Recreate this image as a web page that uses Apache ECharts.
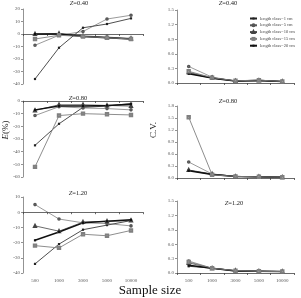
<!DOCTYPE html>
<html><head><meta charset="utf-8">
<script src="https://cdn.jsdelivr.net/npm/echarts@6/dist/echarts.min.js"></script>
<style>html,body{margin:0;padding:0;background:#fff}#c{width:301px;height:298px}</style>
</head><body><div id="c"></div>
<script>
const categories = ['500','1000','3000','5000','10000'];
const seriesNames = ['length class=1 cm','length class=5 cm','length class=10 cm','length class=15 cm','length class=20 cm'];
const panelTitles = ['0.40','0.80','1.20'];
// E(%) panels
const E_040_1 = [-36, -11, 5, 8, 12.5];
const E_040_5 = [-9, -1, 2, 12, 15];
const E_040_10 = [0, 0.5, -1.5, -2.5, -3.5];
const E_040_15 = [-4, -1, -2, -3, -4];
const E_040_20 = [0, 0, -2, -3, -4];
const E_080_1 = [-35, -18, -5, -4, -2];
const E_080_5 = [-11.5, -4.5, -5.5, -6, -7];
const E_080_10 = [-7.5, -3, -3, -3.5, -4];
const E_080_15 = [-52, -11.5, -10, -10.5, -11];
const E_080_20 = [-7, -4, -4, -3.5, -2.5];
const E_120_1 = [-34, -21, -11.5, -8.5, -5.5];
const E_120_5 = [5, -4.5, -7, -7.5, -9];
const E_120_10 = [-9, -12.5, -6.5, -6, -5.5];
const E_120_15 = [-22, -23.5, -14.5, -15.5, -12];
const E_120_20 = [-18.5, -13, -7, -6, -5];
// C.V. panels
const CV_040_1 = [0.2, 0.1, 0.04, 0.05, 0.03];
const CV_040_5 = [0.34, 0.12, 0.04, 0.06, 0.03];
const CV_040_10 = [0.22, 0.11, 0.04, 0.05, 0.03];
const CV_040_15 = [0.24, 0.11, 0.045, 0.06, 0.03];
const CV_040_20 = [0.19, 0.1, 0.04, 0.05, 0.03];
const CV_080_1 = [0.19, 0.09, 0.04, 0.03, 0.02];
const CV_080_5 = [0.4, 0.1, 0.04, 0.03, 0.02];
const CV_080_10 = [0.2, 0.1, 0.04, 0.03, 0.02];
const CV_080_15 = [1.52, 0.08, 0.04, 0.03, 0.02];
const CV_080_20 = [0.18, 0.09, 0.04, 0.03, 0.02];
const CV_120_1 = [0.14, 0.1, 0.04, 0.035, 0.03];
const CV_120_5 = [0.25, 0.1, 0.05, 0.035, 0.03];
const CV_120_10 = [0.21, 0.1, 0.05, 0.035, 0.03];
const CV_120_15 = [0.23, 0.1, 0.05, 0.035, 0.03];
const CV_120_20 = [0.16, 0.1, 0.04, 0.035, 0.03];

const Edata = [[E_040_1,E_040_5,E_040_10,E_040_15,E_040_20],[E_080_1,E_080_5,E_080_10,E_080_15,E_080_20],[E_120_1,E_120_5,E_120_10,E_120_15,E_120_20]];
const CVdata = [[CV_040_1,CV_040_5,CV_040_10,CV_040_15,CV_040_20],[CV_080_1,CV_080_5,CV_080_10,CV_080_15,CV_080_20],[CV_120_1,CV_120_5,CV_120_10,CV_120_15,CV_120_20]];
const Eranges = [[-40,20],[-60,0],[-40,10]];
const CVranges = [[0,1.5],[0,1.8],[0,1.5]];

const FONT = 'Liberation Serif';
const styles = [
  {color:'#222', width:0.8, symbol:'rect', size:2.2},
  {color:'#555', width:0.6, symbol:'emptyCircle', size:1.6},
  {color:'#444', width:0.8, symbol:'emptyTriangle', size:2},
  {color:'#808080', width:0.9, symbol:'emptyRect', size:2.4},
  {color:'#111', width:1.5, symbol:'rect', size:2.2}
];

const leftGrids = [{top:9,height:75},{top:101,height:76},{top:197,height:76}];
const rightGrids = [{top:10,height:73},{top:106,height:72},{top:201,height:72}];
const grid = [], xAxis = [], yAxis = [], series = [];
const tickLbl = {fontSize:5, color:'#555', fontFamily:FONT};

function addPanel(g, isLeft, row) {
  const gi = grid.length;
  grid.push({left: isLeft?23:177, width: isLeft?120:117, top:g.top, height:g.height, containLabel:false, outerBoundsMode:'none'});
  const xi = xAxis.length;
  const bottomRow = row===2;
  xAxis.push({type:'category', data:categories, gridIndex:gi, position:'bottom',
    axisLine:{onZero:isLeft, lineStyle:{color:'#444', width:0.8}},
    axisTick:{show:true, length:2, lineStyle:{color:'#444', width:0.8}},
    axisLabel:{show: bottomRow && !isLeft, margin:5, ...tickLbl}});
  if (isLeft && bottomRow) {
    xAxis.push({type:'category', data:categories, gridIndex:gi, position:'bottom', offset:0,
      axisLine:{show:false, onZero:false}, axisTick:{show:false},
      axisLabel:{show:true, margin:5, ...tickLbl}});
  }
  const yi = yAxis.length;
  const r = isLeft ? Eranges[row] : CVranges[row];
  yAxis.push({type:'value', gridIndex:gi, min:r[0], max:r[1], interval: isLeft?10:0.3,
    splitLine:{show:false},
    axisLine:{show:true, onZero:false, lineStyle:{color:'#777', width:0.8}},
    axisTick:{show:true, length:2, lineStyle:{color:'#777', width:0.8}},
    axisLabel:{margin:3, ...tickLbl, formatter: v => isLeft ? String(Math.round(v)) : v.toFixed(1)}});
  const data = isLeft ? Edata[row] : CVdata[row];
  data.forEach((arr, k) => {
    const s = styles[k];
    series.push({type:'line', name:seriesNames[k], xAxisIndex:xi, yAxisIndex:yi, data:arr,
      symbol:s.symbol, symbolSize:s.size, animation:false, z: k===3?3:2,
      lineStyle:{color:s.color, width:s.width}, itemStyle:{color:s.color, borderWidth:0.6}});
  });
}
for (let r=0;r<3;r++){ addPanel(leftGrids[r], true, r); addPanel(rightGrids[r], false, r); }

const titleRich = {i:{fontStyle:'italic', fontSize:6.5, fontFamily:FONT, fill:'#222'}};
function ztext(x,y,val){ return {type:'text', x:x, y:y, z:10, style:{text:'{i|Z}=' + val, rich:titleRich, font:'6.5px "Liberation Serif"', fill:'#222', textAlign:'center', textVerticalAlign:'middle'}}; }

const chart = echarts.init(document.getElementById('c'), null, {renderer:'canvas'});
chart.setOption({
  animation:false,
  grid, xAxis, yAxis, series,
  legend:{data:seriesNames, orient:'vertical', left:244, top:11, itemWidth:7, itemHeight:2.5, itemGap:1.8,
    textStyle:{fontSize:4.5, fontFamily:FONT, color:'#444', padding:[0,0,0,-2]}},
  graphic:[
    ztext(79,3,panelTitles[0]), ztext(228,3,panelTitles[0]),
    ztext(78,98,panelTitles[1]), ztext(228,101,panelTitles[1]),
    ztext(78,193,panelTitles[2]), ztext(234,203,panelTitles[2]),
    {type:'text', x:6, y:130, rotation:Math.PI/2, z:10, style:{text:'{i|E}(%)', rich:{i:{fontStyle:'italic', fontSize:9, fontFamily:FONT}}, font:'9px "Liberation Serif"', fill:'#222', textAlign:'center', textVerticalAlign:'middle'}},
    {type:'text', x:154, y:130, rotation:Math.PI/2, z:10, style:{text:'C.V.', font:'9px "Liberation Serif"', fill:'#222', textAlign:'center', textVerticalAlign:'middle'}},
    {type:'text', x:150, y:291, z:10, style:{text:'Sample size', font:'13px "Liberation Serif"', fill:'#111', textAlign:'center', textVerticalAlign:'middle'}}
  ]
});
</script></body></html>
